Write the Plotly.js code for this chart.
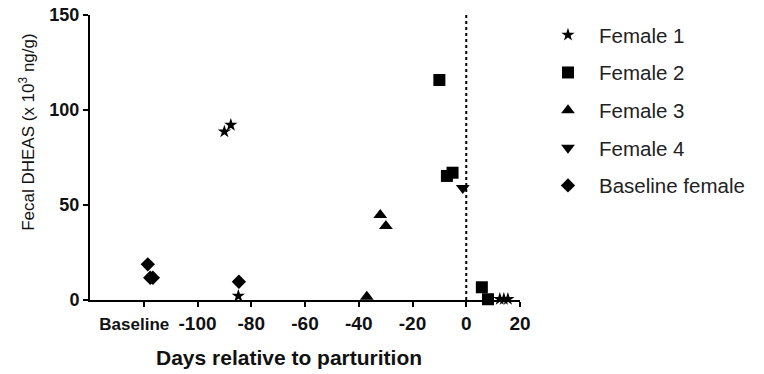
<!DOCTYPE html>
<html>
<head>
<meta charset="utf-8">
<script src="https://cdn.plot.ly/plotly-3.0.1.min.js"></script>
<style>html,body{margin:0;padding:0;background:#fff;}#chart{width:764px;height:374px;}</style>
</head>
<body>
<div id="chart"></div>
<script>
const seriesNames = ["Female 1", "Female 2", "Female 3", "Female 4", "Baseline female"];
const f1x = [-90, -87.6, -84.8, 12.5, 14, 15.5];
const f1y = [88.6, 92.1, 2.1, 0.5, 0.5, 0.5];
const f2x = [-10, -7.2, -5.1, 5.8, 8.1];
const f2y = [115.8, 65.3, 67, 6.7, 0.4];
const f3x = [-32, -29.9, -37];
const f3y = [44.7, 39, 1.7];
const f4x = [-1.3];
const f4y = [59];
const bx = [-118.5, -117.6, -116.6, -84.6];
const by = [18.8, 11.7, 11.7, 9.6];
const xTickVals = [-120, -100, -80, -60, -40, -20, 0, 20];
const xTickText = ['<span style="font-size:17px">Baseline&nbsp;&nbsp;&nbsp;&nbsp;</span>', '-100', '-80', '-60', '-40', '-20', '0', '20'];
const yTickVals = [0, 50, 100, 150];
const yTickText = ['0', '50', '100', '150'];

const symbols = ['star', 'square', 'triangle-up', 'triangle-down', 'diamond'];
const sizes = [10, 12, 12, 12, 11];
const xs = [f1x, f2x, f3x, f4x, bx];
const ys = [f1y, f2y, f3y, f4y, by];

const traces = seriesNames.map((n, i) => ({
  type: 'scatter', mode: 'markers', name: n, x: xs[i], y: ys[i],
  legendgroup: 'g' + i, cliponaxis: false,
  marker: {symbol: symbols[i], size: sizes[i], color: '#000', line: {width: 0}}
}));

const bold = t => '<b>' + t + '</b>';

const layout = {
  width: 764, height: 374,
  margin: {l: 90, r: 244, t: 15, b: 74},
  paper_bgcolor: '#fff', plot_bgcolor: '#fff',
  font: {family: 'Liberation Sans, Arial, sans-serif', color: '#000'},
  showlegend: true,
  legend: {x: 1.0395, xanchor: 'left', y: 1.0, yanchor: 'top', font: {size: 20.5, color: '#222'},
           tracegroupgap: 8, traceorder: 'grouped', itemwidth: 52, borderwidth: 0},
  xaxis: {range: [-140, 20], tickmode: 'array', tickvals: xTickVals, ticktext: xTickText.map(bold),
          tickangle: 0, automargin: false,
          showline: true, linewidth: 2, linecolor: '#000', ticks: 'outside', ticklen: 5, tickwidth: 2,
          tickcolor: '#000', showgrid: false, zeroline: false,
          tickfont: {size: 19, color: '#111'}},
  yaxis: {range: [0, 150], tickmode: 'array', tickvals: yTickVals, ticktext: yTickText.map(bold),
          automargin: false,
          showline: true, linewidth: 2, linecolor: '#000', ticks: 'outside', ticklen: 5, tickwidth: 2,
          tickcolor: '#000', showgrid: false, zeroline: false,
          tickfont: {size: 18, color: '#111'}},
  shapes: [{type: 'line', xref: 'x', yref: 'paper', x0: 0, x1: 0, y0: 0, y1: 1,
            line: {color: '#000', width: 2, dash: 'dot'}}],
  annotations: [
    {text: '<b>Days relative to parturition</b>', xref: 'paper', yref: 'paper', x: 0.463, y: -0.2035,
     xanchor: 'center', yanchor: 'middle', showarrow: false, font: {size: 21, color: '#111'}},
    {text: 'Fecal DHEAS (x 10<sup>3</sup> ng/g)', xref: 'paper', yref: 'paper', x: -0.1465, y: 0.59,
     xanchor: 'center', yanchor: 'middle', textangle: -90, showarrow: false, font: {size: 17, color: '#111'}}
  ]
};

Plotly.newPlot('chart', traces, layout, {staticPlot: true, displayModeBar: false});
</script>
</body>
</html>
